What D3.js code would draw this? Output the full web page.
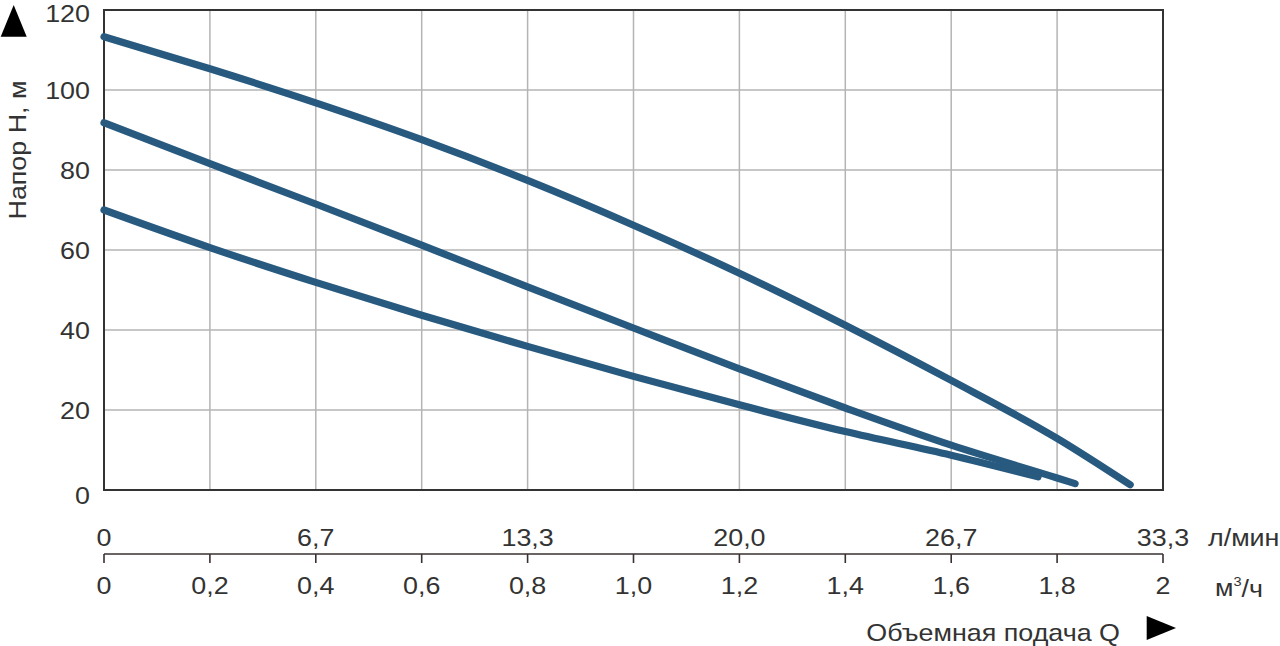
<!DOCTYPE html>
<html><head><meta charset="utf-8">
<script src="https://cdn.jsdelivr.net/npm/d3@7"></script>
<style>
html,body{margin:0;padding:0;background:#fff;}
svg{display:block;font-family:"Liberation Sans",Arial,sans-serif;}
</style></head><body>
<svg id="chart" width="1280" height="646"></svg>
<script>
// Data (Q in m3/h, H in m)
const qTicks = [0,0.2,0.4,0.6,0.8,1.0,1.2,1.4,1.6,1.8,2.0];
const qTickLabels = ["0","0,2","0,4","0,6","0,8","1,0","1,2","1,4","1,6","1,8","2"];
const lminTicks = [0,0.4,0.8,1.2,1.6,2.0];
const lminLabels = ["0","6,7","13,3","20,0","26,7","33,3"];
const hTicks = [0,20,40,60,80,100,120];

const curve1Q = [0,0.2,0.4,0.6,0.8,1.0,1.2,1.4,1.6,1.8,1.938];
const curve1H = [113.3,105.3,96.8,87.6,77.4,66.2,54.2,41.2,27.4,12.9,1.3];
const curve2Q = [0,0.2,0.4,0.6,0.8,1.0,1.2,1.4,1.6,1.8,1.834];
const curve2H = [91.8,81.6,71.5,61.2,50.8,40.5,30.3,20.5,11.2,3.0,1.6];
const curve3Q = [0,0.2,0.4,0.6,0.8,1.0,1.2,1.4,1.6,1.764];
const curve3H = [70.0,60.6,51.9,43.7,35.9,28.4,21.3,14.6,8.7,3.3];

const svg = d3.select("#chart");
const L = 104, R = 1163, T = 10, B = 490;
const x = d3.scaleLinear().domain([0,2]).range([L,R]);
const y = d3.scaleLinear().domain([0,120]).range([B,T]);
const textColor = "#333";
const lineColor = "#285a80";
const SX = 1.12;

function label(parent, px, py, txt, anchor, size, rotate) {
  const t = parent.append("text")
    .attr("transform", `translate(${px},${py})` + (rotate ? ` rotate(${rotate})` : "") + ` scale(${SX},1)`)
    .attr("dy","0.36em").attr("text-anchor", anchor || "middle")
    .attr("font-size", size || 24).attr("fill", textColor);
  if (txt !== null) t.text(txt);
  return t;
}

// grid
const g = svg.append("g");
g.selectAll("line.vg").data(qTicks.slice(1,-1)).join("line")
  .attr("x1",d=>x(d)).attr("x2",d=>x(d)).attr("y1",T).attr("y2",B)
  .attr("stroke","#b4b4b4").attr("stroke-width",1.5);
g.selectAll("line.hg").data(hTicks.slice(1,-1)).join("line")
  .attr("x1",L).attr("x2",R).attr("y1",d=>y(d)).attr("y2",d=>y(d))
  .attr("stroke","#b4b4b4").attr("stroke-width",1.5);
g.append("rect").attr("x",L).attr("y",T).attr("width",R-L).attr("height",B-T)
  .attr("fill","none").attr("stroke","#333").attr("stroke-width",2);

// y labels
const yl = svg.append("g");
hTicks.forEach(d => label(yl, L-14, y(d)+(d===0?5:d===120?3:0), String(d), "end"));

// y title
label(svg, 17, 150, "Напор H, м", "middle", 24, -90);
svg.append("path").attr("d","M0.7,36.7 L13.7,5 L26.7,36.7 Z").attr("fill","#000");

// curves
const line = d3.line().x(d=>x(d[0])).y(d=>y(d[1])).curve(d3.curveMonotoneX);
const curves = [[curve1Q,curve1H],[curve2Q,curve2H],[curve3Q,curve3H]];
svg.append("g").selectAll("path").data(curves).join("path")
  .attr("d",c=>line(d3.zip(c[0],c[1])))
  .attr("fill","none").attr("stroke",lineColor).attr("stroke-width",7.2)
  .attr("stroke-linecap","round").attr("stroke-linejoin","round");

// bottom double axis
const axY = 554;
svg.append("line").attr("x1",L).attr("x2",R).attr("y1",axY).attr("y2",axY)
  .attr("stroke","#3a3030").attr("stroke-width",1.6);
svg.append("g").selectAll("line").data(qTicks).join("line")
  .attr("x1",d=>x(d)).attr("x2",d=>x(d)).attr("y1",axY).attr("y2",axY+9)
  .attr("stroke","#3a3030").attr("stroke-width",1.6);
const tl = svg.append("g");
lminTicks.forEach((d,i) => label(tl, x(d), 537, lminLabels[i]));
const bl = svg.append("g");
qTicks.forEach((d,i) => label(bl, x(d), 585, qTickLabels[i]));
label(svg, 1208, 537, "л/мин", "start");
const mt = label(svg, 1215, 587, null, "start");
mt.append("tspan").text("м");
mt.append("tspan").attr("font-size",13).attr("dy","-0.75em").text("3");
mt.append("tspan").attr("dy","0.45em").text("/ч");

label(svg, 1120, 632, "Объемная подача Q", "end");
svg.append("path").attr("d","M1146.7,616 L1176,628 L1146.7,640 Z").attr("fill","#000");
</script>
</body></html>
